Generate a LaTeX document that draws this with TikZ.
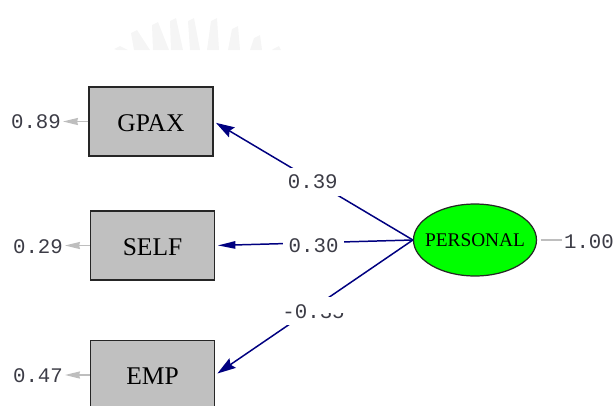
\documentclass[tikz,border=0pt]{standalone}
\usepackage{fontspec}
\setmainfont{Liberation Serif}
\setmonofont{Liberation Mono}
\usetikzlibrary{arrows.meta}
\usetikzlibrary{shapes.geometric}
\definecolor{boxgray}{RGB}{192,192,192}
\definecolor{errgray}{RGB}{190,190,190}
\definecolor{pathblue}{RGB}{0,0,128}
\definecolor{labelgray}{RGB}{60,60,70}
\tikzstyle{obsbox} = [draw=black!85,line width=0.8pt,fill=boxgray,rectangle,minimum width=2.48cm,minimum height=1.38cm,inner sep=0,text height=11pt,text depth=0pt,font=\fontsize{14.5}{15}\selectfont]
\tikzstyle{latent} = [draw=black!85,line width=0.7pt,fill=green,ellipse,minimum width=2.46cm,minimum height=1.44cm,inner sep=0,font=\fontsize{11}{11}\selectfont]
\tikzstyle{numlabel} = [text=labelgray,inner sep=1pt,font=\ttfamily\fontsize{11.8}{12}\selectfont]
\tikzstyle{pathlabel} = [numlabel,fill=white,inner xsep=3pt,inner ysep=4pt,xshift=0.03cm,yshift=-0.05cm]
\tikzstyle{patharrow} = [draw=pathblue,line width=0.85pt,shorten >=1.5pt,-{Stealth[length=10.5pt,width=6.5pt,inset=1.5pt]}]
\tikzstyle{errarrow} = [draw=errgray,line width=1pt,-{Stealth[length=8.5pt,width=4pt,inset=0.5pt]}]
\tikzstyle{errline} = [draw=errgray,line width=0.8pt]
\begin{document}
\begin{tikzpicture}[x=0.02cm,y=-0.02cm]
    \path[use as bounding box,clip] (0,0) rectangle (613,406);

    % watermark at the top
    \begin{scope}
     \clip (100,0) rectangle (300,50);
     \foreach \xa/\xb/\xc/\ytop in {117/128/120/46,134/150/137/30,153/169/158/22,171/183/176/18,190/200/194/18,207/219/217/18,228/240/238/26,250/262/260/35,272/281/279/46}
      \fill[black!4] (\xa,50) -- (\xb,50) -- (\xc,\ytop) -- (\xc-6,\ytop+3) -- cycle;
    \end{scope}

    % observed variables
    \node[obsbox] (gpax) at (151,121.5) {GPAX};
    \node[obsbox] (self) at (152.5,245.5) {SELF};
    \node[obsbox] (emp) at (152.5,375) {EMP};
    \node[latent] (personal) at (475,240) {\makebox[0pt]{PERSONAL}};

    % error terms
    \node[numlabel] (gpaxerr) at (36,122) {0.89};
    \node[numlabel] (selferr) at (38,247) {0.29};
    \node[numlabel] (emperr) at (38,376) {0.47};
    \node[numlabel] (personalerr) at (589,242) {1.00};
    \draw[errarrow] (gpax.west) -- (gpax.west -| gpaxerr.east);
    \draw[errarrow] (self.west) -- (self.west -| selferr.east);
    \draw[errarrow] (emp.west) -- (emp.west -| emperr.east);
    \draw[errline,shorten <=2pt] (personal.east) -- (personal.east -| personalerr.west);

    % loadings
    \draw[patharrow] (personal.west) -- node[pathlabel,pos=0.51] (gpaxload) {0.39} (gpax.east);
    \draw[patharrow,-{Stealth[length=10pt,width=4.2pt,inset=0pt]}] (personal.west) -- node[pathlabel,pos=0.51] (selfload) {0.30} (self.east);
    \draw[patharrow] (personal.west) -- node[pathlabel,pos=0.51] (empload) {-0.35} (emp.east);

    % top of the last digits is wiped out
    \fill[white] (318,298) rectangle (348,313);
\end{tikzpicture}
\end{document}
